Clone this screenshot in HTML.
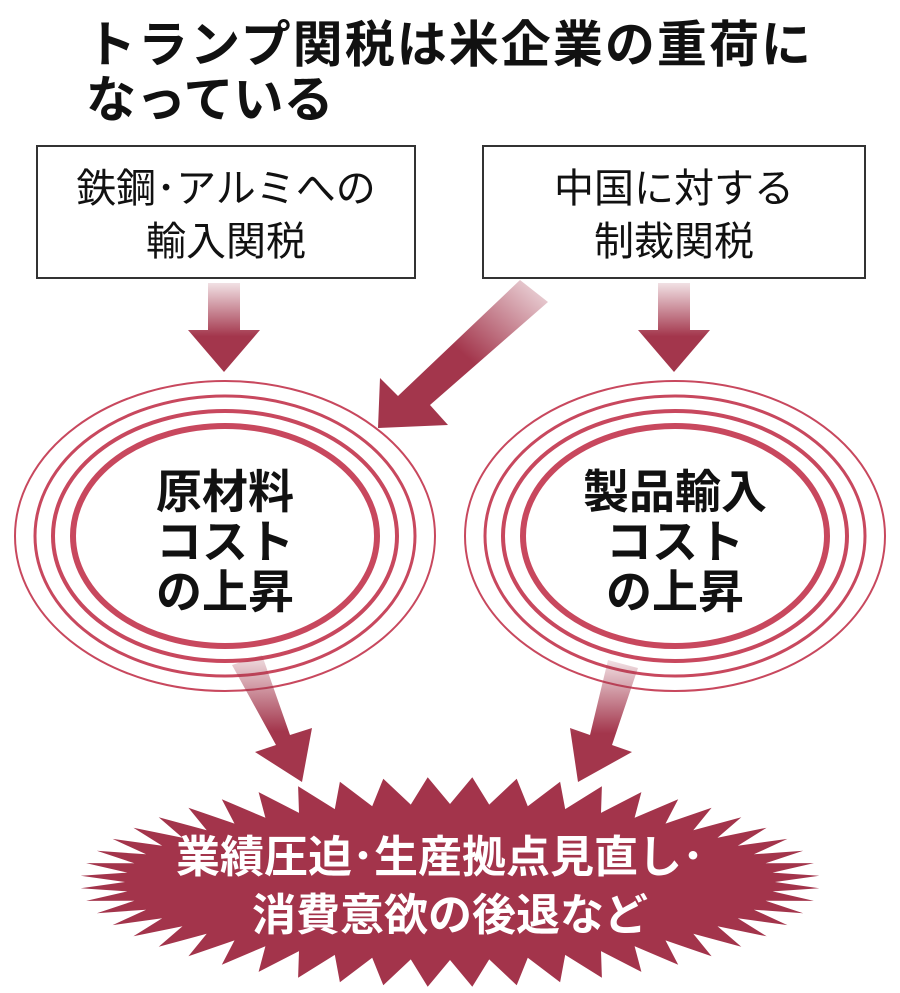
<!DOCTYPE html>
<html><head><meta charset="utf-8"><style>
body{margin:0;background:#fff;}
svg{display:block;font-family:"Liberation Sans","Noto Sans CJK JP",sans-serif;}
</style></head><body>
<svg id="s" width="900" height="993" viewBox="0 0 900 993" xmlns="http://www.w3.org/2000/svg">
<defs>
<linearGradient id="gv" x1="0" y1="0" x2="0" y2="1">
<stop offset="0" stop-color="#a3364c" stop-opacity="0.15"/><stop offset="0.6" stop-color="#a3364c"/></linearGradient>
<linearGradient id="gd" x1="1" y1="0" x2="0" y2="1">
<stop offset="0" stop-color="#a3364c" stop-opacity="0.15"/><stop offset="0.5" stop-color="#a3364c"/></linearGradient>
</defs>
<text x="86" y="62" font-size="50" font-weight="bold" fill="#111" textLength="725">トランプ関税は米企業の重荷に</text>
<text x="86" y="117" font-size="50" font-weight="bold" fill="#111">なっている</text>
<rect x="37" y="146" width="378" height="132" fill="#fff" stroke="#333" stroke-width="2"/>
<rect x="483" y="146" width="382" height="132" fill="#fff" stroke="#333" stroke-width="2"/>
<text x="226" y="202" font-size="40" text-anchor="middle" fill="#111">鉄鋼･アルミへの</text>
<text x="226" y="255" font-size="40" text-anchor="middle" fill="#111">輸入関税</text>
<text x="674" y="202" font-size="40" text-anchor="middle" fill="#111">中国に対する</text>
<text x="674" y="255" font-size="40" text-anchor="middle" fill="#111">制裁関税</text>
<g fill="url(#gv)">
<polygon points="208,283 240,283 240,330 260,330 224,372 188,330 208,330"/>
<polygon points="658,283 690,283 690,330 710,330 674,372 638,330 658,330"/>
</g>
<polygon fill="url(#gd)" points="520,280 548,302 430,405 448,425 378,428 380,378 398,396"/>
<g fill="none" stroke="#c8485e">
<ellipse cx="225" cy="536" rx="210" ry="155" stroke-width="2"/>
<ellipse cx="225" cy="536" rx="190" ry="140" stroke-width="3"/>
<ellipse cx="225" cy="536" rx="172" ry="125" stroke-width="4"/>
<ellipse cx="225" cy="536" rx="152" ry="110" stroke-width="6"/>
<ellipse cx="675" cy="536" rx="210" ry="155" stroke-width="2"/>
<ellipse cx="675" cy="536" rx="190" ry="140" stroke-width="3"/>
<ellipse cx="675" cy="536" rx="172" ry="125" stroke-width="4"/>
<ellipse cx="675" cy="536" rx="152" ry="110" stroke-width="6"/>
</g>
<g font-size="46" font-weight="bold" text-anchor="middle" fill="#111">
<text x="225" y="508">原材料</text><text x="225" y="558">コスト</text><text x="225" y="608">の上昇</text>
<text x="675" y="508">製品輸入</text><text x="675" y="558">コスト</text><text x="675" y="608">の上昇</text>
</g>
<polygon fill="url(#gv)" points="232,665 262,655 290,735 312,728 302,782 255,752 276,745"/>
<polygon fill="url(#gv)" points="608,660 638,668 612,745 632,752 578,782 570,728 590,735"/>
<polygon id="star" fill="#a3344b"/>
<g font-size="44" font-weight="bold" text-anchor="middle" fill="#fff">
<text x="440" y="872">業績圧迫･生産拠点見直し･</text>
<text x="450" y="930">消費意欲の後退など</text>
</g>
</svg>
<script>
(function(){var n=52,cx=450,cy=882,pts=[];for(var i=0;i<n*2;i++){var a=Math.PI*2*i/(n*2);var rx,ry;if(i%2){rx=370;ry=105;}else{rx=325;ry=78;}pts.push((cx+rx*Math.cos(a)).toFixed(1)+","+(cy+ry*Math.sin(a)).toFixed(1));}
document.getElementById("star").setAttribute("points",pts.join(" "));})();
</script>
</body></html>
